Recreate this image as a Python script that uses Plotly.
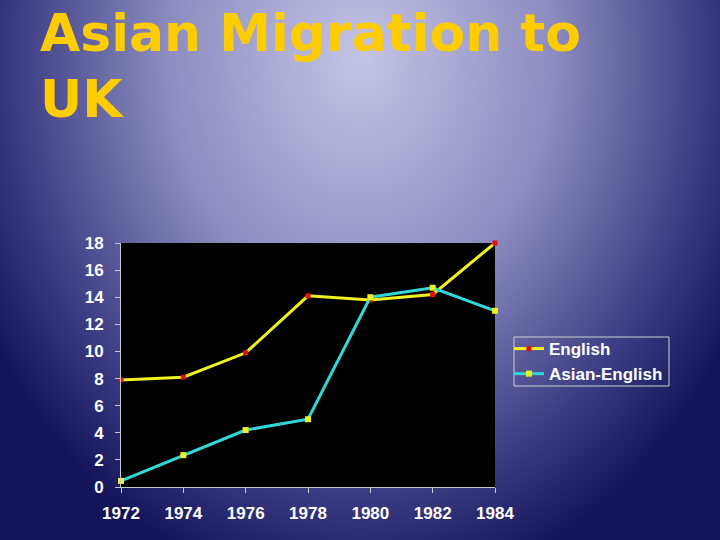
import plotly.graph_objects as go
import urllib.parse

years = [1972, 1974, 1976, 1978, 1980, 1982, 1984]
english = [7.9, 8.1, 9.9, 14.1, 13.8, 14.2, 18.0]
asian_english = [0.45, 2.35, 4.2, 5.0, 14.0, 14.7, 13.0]
title_lines = ["Asian Migration to", "UK"]
ytick_vals = [0, 2, 4, 6, 8, 10, 12, 14, 16, 18]

svg = (
    '<svg xmlns="http://www.w3.org/2000/svg" width="720" height="540" preserveAspectRatio="none">'
    '<defs><radialGradient id="g" gradientUnits="userSpaceOnUse" cx="0" cy="0" r="1" '
    'gradientTransform="translate(360,60) scale(430,540)">'
    '<stop offset="0" stop-color="#c4c4e6"/>'
    '<stop offset="0.45" stop-color="#8c8cc0"/>'
    '<stop offset="0.8" stop-color="#3c3c84"/>'
    '<stop offset="1" stop-color="#14145a"/>'
    '</radialGradient></defs>'
    '<rect width="720" height="540" fill="url(#g)"/></svg>'
)
src = "data:image/svg+xml;charset=utf-8," + urllib.parse.quote(svg)

fig = go.Figure()
fig.add_trace(go.Scatter(
    x=years, y=english, name="English", mode="lines+markers",
    line=dict(color="#f2f21e", width=3),
    marker=dict(symbol="square", size=5, color="#e01010"),
    cliponaxis=False,
))
fig.add_trace(go.Scatter(
    x=years, y=asian_english, name="Asian-English", mode="lines+markers",
    line=dict(color="#33d6d6", width=3),
    marker=dict(symbol="square", size=6, color="#f0f020"),
    cliponaxis=False,
))

title_font = dict(family="DejaVu Sans", size=52, color="#ffcc00", weight="bold")
annotations = []
for i, line in enumerate(title_lines):
    annotations.append(dict(text=line, xref="paper", yref="paper",
                            x=38/720, y=1 - (1 + 66 * i)/540, xanchor="left", yanchor="top",
                            align="left", showarrow=False, font=title_font))

tick_font = dict(family="Liberation Sans", size=17, color="white", weight="bold")

fig.update_layout(
    width=720, height=540,
    margin=dict(l=0, r=0, t=0, b=0, pad=0, autoexpand=False),
    paper_bgcolor="#1c1c62",
    plot_bgcolor="black",
    showlegend=True,
    images=[dict(source=src, xref="paper", yref="paper", x=0, y=1,
                 sizex=1, sizey=1, sizing="stretch", layer="below",
                 xanchor="left", yanchor="top")],
    shapes=[
        dict(type="rect", xref="x domain", yref="y domain", x0=0, x1=1, y0=0, y1=1,
             fillcolor="black", line=dict(width=0), layer="below"),
        dict(type="rect", xref="paper", yref="paper",
             x0=514/720, x1=669/720, y0=1 - 386/540, y1=1 - 337/540,
             fillcolor="rgba(0,0,0,0)", line=dict(color="#d0d0d0", width=1)),
    ],
    xaxis=dict(domain=[121/720, 495/720], range=[1972, 1984], automargin=False,
               tickvals=years, ticks="outside", ticklen=5, tickcolor="#c8c8c8",
               ticklabelstandoff=6,
               showline=True, linecolor="#c8c8c8", linewidth=1,
               showgrid=False, zeroline=False, tickfont=tick_font),
    yaxis=dict(domain=[1 - 487/540, 1 - 243/540], range=[0, 18], automargin=False,
               tickvals=ytick_vals, ticks="outside", ticklen=5, tickcolor="#c8c8c8",
               ticklabelstandoff=8,
               showline=True, linecolor="#c8c8c8", linewidth=1,
               showgrid=False, zeroline=False, tickfont=tick_font),
    legend=dict(x=509/720, y=1 - 331/540, xanchor="left", yanchor="top",
                bgcolor="rgba(0,0,0,0)", borderwidth=0,
                font=dict(family="Liberation Sans", size=17, color="white", weight="bold"),
                itemwidth=30, tracegroupgap=0),
    annotations=annotations,
)

fig.write_html("out.html", config={"displayModeBar": False},
               post_script="document.body.style.margin='0';")
